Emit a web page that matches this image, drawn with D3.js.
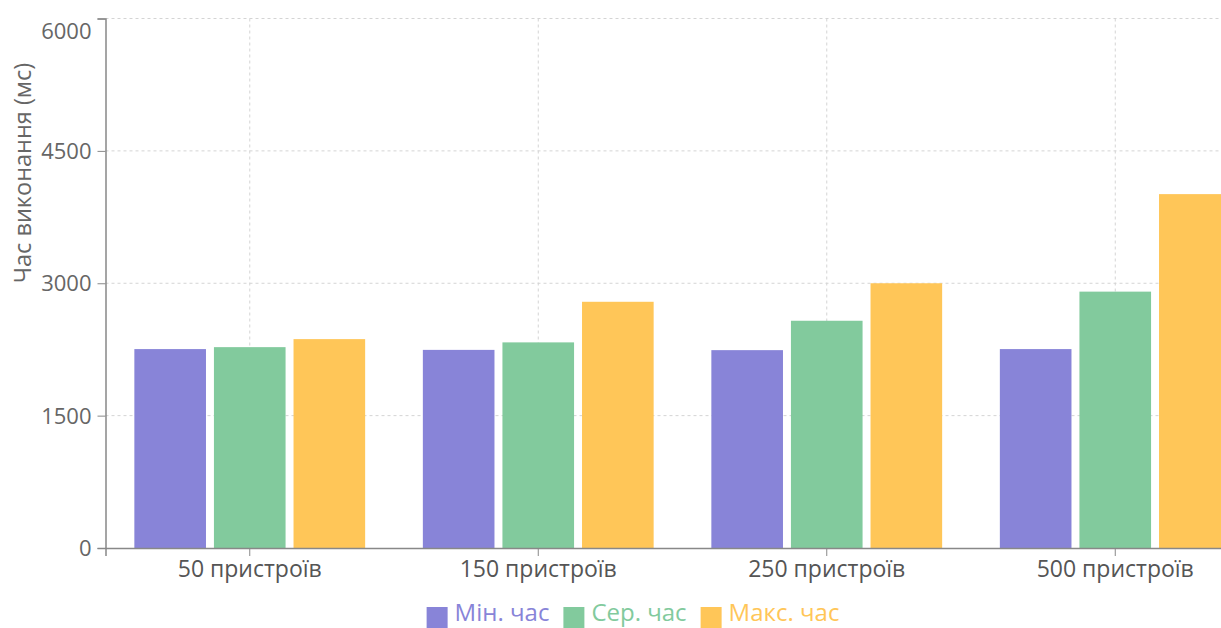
<!DOCTYPE html>
<html>
<head>
<meta charset="utf-8">
<script src="https://cdn.jsdelivr.net/npm/d3@7"></script>
<style>
  html, body { margin: 0; padding: 0; background: #fff; overflow: hidden; }
  svg { display: block; font-family: "Open Sans", "Noto Sans", sans-serif; }
</style>
</head>
<body>
<svg id="chart" width="1221" height="628"></svg>
<script>
const categories = ["50 пристроїв", "150 пристроїв", "250 пристроїв", "500 пристроїв"];
const seriesNames = ["Мін. час", "Сер. час", "Макс. час"];
const minTime = [2254, 2245, 2242, 2254];
const avgTime = [2276, 2330, 2575, 2905];
const maxTime = [2367, 2790, 3000, 4010];
const yTicks = [0, 1500, 3000, 4500, 6000];
const colors = ["#8884d8", "#82ca9d", "#ffc658"];
const yLabel = "Час виконання (мс)";

const seriesValues = [minTime, avgTime, maxTime];
const data = categories.map((c, i) => ({ cat: c, vals: seriesValues.map(s => s[i]) }));

const svg = d3.select("#chart");
const mLeft = 105.5, mTop = 18.5, mBottom = 548, bandW = 288.5;
const mRight = mLeft + bandW * categories.length;

const x0 = d3.scaleBand().domain(categories).range([mLeft, mRight]).padding(0);
const x1 = d3.scaleBand().domain(seriesNames)
  .range([bandW * 0.1, bandW * 0.9]).paddingInner(0.1).paddingOuter(0);
const y = d3.scaleLinear().domain([0, 6000]).range([mBottom, mTop]);

// grid
const grid = svg.append("g").attr("stroke", "#d4d4d4").attr("stroke-dasharray", "3 3").attr("stroke-width", 1);
yTicks.filter(t => t > 0).forEach(t => {
  grid.append("line").attr("x1", mLeft).attr("x2", mRight).attr("y1", y(t)).attr("y2", y(t));
});
categories.forEach(c => {
  const cx = x0(c) + x0.bandwidth() / 2;
  grid.append("line").attr("x1", cx).attr("x2", cx).attr("y1", mTop).attr("y2", mBottom);
});

// bars
const groups = svg.append("g").selectAll("g").data(data).join("g")
  .attr("transform", d => `translate(${x0(d.cat)},0)`);
groups.selectAll("rect").data(d => d.vals.map((v, i) => ({ v, i })))
  .join("rect")
  .attr("x", d => x1(seriesNames[d.i]))
  .attr("width", x1.bandwidth())
  .attr("y", d => y(d.v))
  .attr("height", d => y(0) - y(d.v))
  .attr("fill", d => colors[d.i]);

// y axis
const yAxis = svg.append("g").attr("transform", `translate(${mLeft},0)`)
  .call(d3.axisLeft(y).tickValues(yTicks).tickFormat(d3.format("d")).tickSize(8).tickPadding(6));
yAxis.select(".domain").attr("stroke", "#888").attr("stroke-width", 1.5);
yAxis.selectAll(".tick line").attr("stroke", "#888");
yAxis.selectAll(".tick text").attr("fill", "#666").attr("font-size", 22)
  .attr("font-family", '"Open Sans", sans-serif')
  .attr("dy", d => d === 6000 ? "0.9em" : "0.34em");

// x axis
const xAxis = svg.append("g").attr("transform", `translate(0,${mBottom})`)
  .call(d3.axisBottom(x0).tickSize(8).tickPadding(5));
xAxis.select(".domain").attr("stroke", "#888").attr("stroke-width", 1.5);
xAxis.selectAll(".tick line").attr("stroke", "#888");
xAxis.selectAll(".tick text").attr("fill", "#555").attr("font-size", 23)
  .attr("font-family", '"Open Sans", sans-serif');

// y label
svg.append("text")
  .attr("transform", `translate(31,173) rotate(-90)`)
  .attr("text-anchor", "middle")
  .attr("fill", "#666").attr("font-size", 23.5)
  .text(yLabel);

// legend
const legend = svg.append("g");
const items = [];
seriesNames.forEach((n, i) => {
  const g = legend.append("g");
  g.append("rect").attr("x", 0).attr("y", -14).attr("width", 21).attr("height", 21).attr("fill", colors[i]);
  const t = g.append("text").attr("x", 28).attr("y", 0)
    .attr("font-size", 24).attr("fill", colors[i]).text(n);
  const w = 28 + t.node().getComputedTextLength();
  items.push({ g, w });
});
const itemGap = 14;
const total = items.reduce((a, b) => a + b.w, 0) + itemGap * (items.length - 1);
let cur = 0;
items.forEach(it => { it.g.attr("transform", `translate(${cur},0)`); cur += it.w + itemGap; });
legend.attr("transform", `translate(${633 - total / 2},621)`);
</script>
</body>
</html>
